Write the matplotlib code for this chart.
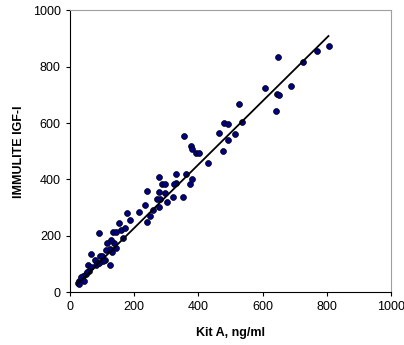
import matplotlib
matplotlib.use("Agg")
import numpy as np
import matplotlib.pyplot as plt

# Kit A vs IMMULITE IGF-I (ng/ml)
kit_a = [807, 770, 727, 648, 688, 607, 646, 652, 642, 528, 536, 481, 491, 465, 514,
         491, 476, 431, 355, 377, 380, 394, 402, 361, 329, 331, 324, 374, 380, 352,
         322, 276, 286, 295, 276, 295, 270, 280, 276, 302, 241, 233, 214, 258, 248,
         241, 178, 188, 153, 158, 171, 165, 90, 135, 143, 138, 143, 114, 128, 130,
         112, 125, 67, 93, 100, 110, 77, 87, 80, 125, 57, 67, 60, 50, 42, 37, 29,
         25, 29, 44, 35, 54, 104, 90]
immulite = [873, 856, 816, 835, 733, 726, 704, 700, 643, 669, 604, 600, 597, 565, 561,
            540, 500, 457, 554, 519, 508, 493, 493, 421, 421, 389, 385, 385, 401, 339,
            339, 410, 385, 383, 356, 352, 331, 331, 304, 320, 360, 311, 285, 292, 271,
            248, 282, 256, 246, 221, 228, 191, 209, 212, 212, 173, 157, 173, 186, 142,
            150, 152, 137, 130, 128, 113, 115, 105, 96, 95, 95, 90, 77, 63, 58, 47, 40,
            32, 28, 40, 53, 73, 109, 104]

# recta de regresion
fit_slope = 1.126
fit_intercept = 2.4
fit_range = [25, 805]

plt.rcParams["font.family"] = ["Liberation Sans", "DejaVu Sans"]

fig = plt.figure(figsize=(4.04, 3.45), dpi=100)
ax = fig.add_axes([0.173, 0.153, 0.795, 0.817])

ax.scatter(kit_a, immulite, s=18, color="#000080", edgecolors="black",
           linewidths=0.5, zorder=3)
xf = np.array(fit_range)
ax.plot(xf, fit_slope * xf + fit_intercept, color="black", lw=1.3, zorder=4)

ax.set_xlim(0, 1000)
ax.set_ylim(0, 1000)
ax.set_xticks(range(0, 1001, 200))
ax.set_yticks(range(0, 1001, 200))
ax.tick_params(labelsize=9, length=3, width=0.8, top=False, right=False)

for s in ["top", "right"]:
    ax.spines[s].set_color("#a0a0a0")
for s in ["left", "bottom"]:
    ax.spines[s].set_color("black")

ax.set_xlabel("Kit A, ng/ml", fontsize=9, fontweight="bold", labelpad=10)
ax.set_ylabel("IMMULITE IGF-I", fontsize=9, fontweight="bold", labelpad=6)

fig.savefig("out.png", dpi=100)
